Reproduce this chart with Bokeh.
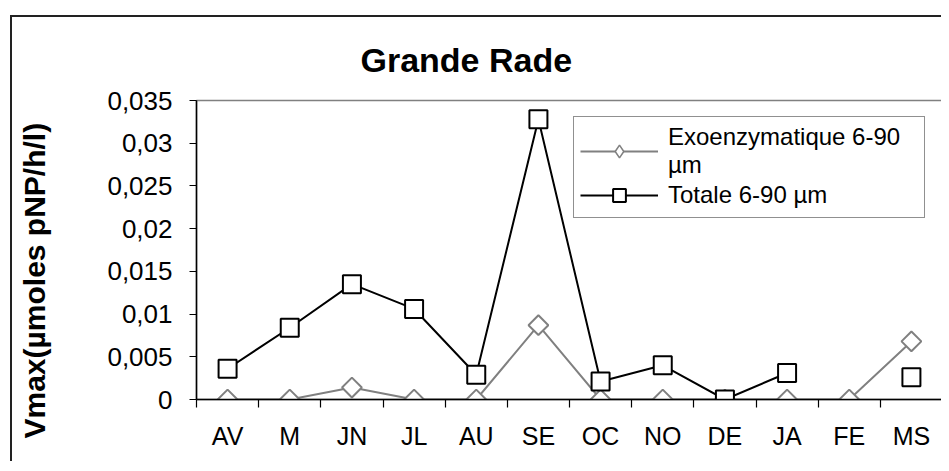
import math
import numpy as np
from bokeh.plotting import figure
from bokeh.models import Range1d, FixedTicker, Legend, LegendItem, Title, LinearAxis
from bokeh.core.properties import value
from bokeh.embed import file_html
from bokeh.resources import INLINE

months = ["AV", "M", "JN", "JL", "AU", "SE", "OC", "NO", "DE", "JA", "FE", "MS"]
exo = [0.0, 0.0, 0.0014, 0.0, 0.0, 0.0087, 0.0, 0.0, 0.0, 0.0, 0.0, 0.0068]
totale = [0.0036, 0.0084, 0.0135, 0.0106, 0.0029, 0.0328, 0.0021, 0.0040, 0.0, 0.0031, np.nan, 0.0026]
y_ticks = [0, 0.005, 0.01, 0.015, 0.02, 0.025, 0.03, 0.035]
y_tick_labels = ["0", "0,005", "0,01", "0,015", "0,02", "0,025", "0,03", "0,035"]
title_text = "Grande Rade"
y_title = "Vmax(µmoles pNP/h/l)"
exo_label = "Exoenzymatique 6-90\nµm"
tot_label = "Totale 6-90 µm"

FONT = "Liberation Sans"
xs = list(range(len(months)))
bounds = [i - 0.5 for i in range(len(months) + 1)]

p = figure(width=931, height=446, x_range=Range1d(-0.5, len(months) - 0.5),
           y_range=Range1d(0, 0.035), output_backend="svg", toolbar_location=None,
           min_border_left=184, min_border_right=1, min_border_top=83, min_border_bottom=64)
p.styles = {"margin-left": "10px", "margin-top": "15px",
            "border-left": "2px solid #222", "border-top": "2px solid #222"}
p.background_fill_color = "white"
p.border_fill_color = "white"
p.outline_line_color = "#808080"
p.outline_line_width = 1.5
p.xgrid.visible = False
p.ygrid.visible = False

x_main = p.below[0]
y_main = p.left[0]

p.title = Title(text=title_text, align="left", offset=164, vertical_align="top",
                standoff=40, text_font=FONT, text_font_size="34px",
                text_font_style="bold", text_color="black")

# blank layout gap between the y tick labels and the y-axis title
# (one white, label-less tick placed in an empty spot of the margin)
gap_tick = 0.0325
gap_axis = LinearAxis(ticker=FixedTicker(ticks=[gap_tick], minor_ticks=[]),
                      major_tick_out=52, major_tick_in=0, major_tick_line_color="white",
                      major_tick_line_width=1, minor_tick_line_color=None,
                      axis_line_color=None, major_label_standoff=0,
                      major_label_overrides={gap_tick: ""}, major_label_text_alpha=0)
p.add_layout(gap_axis, "left")
p.add_layout(Title(text=y_title, align="left", offset=-39, vertical_align="bottom",
                   standoff=4, text_font=FONT, text_font_size="30px",
                   text_font_style="bold", text_color="black"), "left")

# x axis: labels at category centres, ticks at category boundaries
x_main.ticker = FixedTicker(ticks=xs, minor_ticks=bounds)
x_main.major_label_overrides = {i: m for i, m in enumerate(months)}
x_main.major_tick_line_color = None
x_main.major_tick_out = 8
x_main.major_tick_in = 0
x_main.minor_tick_out = 8
x_main.minor_tick_in = 0
x_main.minor_tick_line_color = "black"
x_main.minor_tick_line_width = 1.2
x_main.axis_line_color = "black"
x_main.axis_line_width = 1.5
x_main.major_label_standoff = 14
x_main.major_label_text_font = FONT
x_main.major_label_text_font_size = "25px"
x_main.major_label_text_color = "black"

y_main.ticker = FixedTicker(ticks=y_ticks, minor_ticks=[])
y_main.major_label_overrides = {t: l for t, l in zip(y_ticks, y_tick_labels)}
y_main.major_tick_out = 7
y_main.major_tick_in = 0
y_main.major_tick_line_color = "black"
y_main.major_tick_line_width = 1.2
y_main.axis_line_color = "black"
y_main.axis_line_width = 1.5
y_main.major_label_standoff = 17
y_main.major_label_text_font = FONT
y_main.major_label_text_font_size = "26px"
y_main.major_label_text_color = "black"

l1 = p.line(xs, exo, line_color="#808080", line_width=2)
s1 = p.scatter(xs, exo, marker="square", angle=math.pi / 4, size=14,
               fill_color="white", line_color="#808080", line_width=2)
l2 = p.line(xs, totale, line_color="black", line_width=2)
s2 = p.scatter(xs, totale, marker="square", size=18,
               fill_color="white", line_color="black", line_width=2)
# legend-only diamond symbol (its single point is empty, so nothing is plotted)
d1 = p.scatter(x=[np.nan], y=[np.nan], marker="diamond", fill_color="white",
               line_color="#808080", line_width=1.5)

legend = Legend(items=[LegendItem(label=value(exo_label), renderers=[l1, d1]),
                       LegendItem(label=value(tot_label), renderers=[l2, s2])],
                location=(377, 181), margin=0, padding=6, spacing=0,
                glyph_width=78, glyph_height=32, label_standoff=10, label_width=250,
                label_text_font=FONT, label_text_font_size="24px",
                label_text_line_height=1.05, label_text_color="black",
                border_line_color="#222", border_line_width=1.5,
                background_fill_color="white", background_fill_alpha=1)
p.add_layout(legend)

open("out.html", "w").write(file_html(p, INLINE))
